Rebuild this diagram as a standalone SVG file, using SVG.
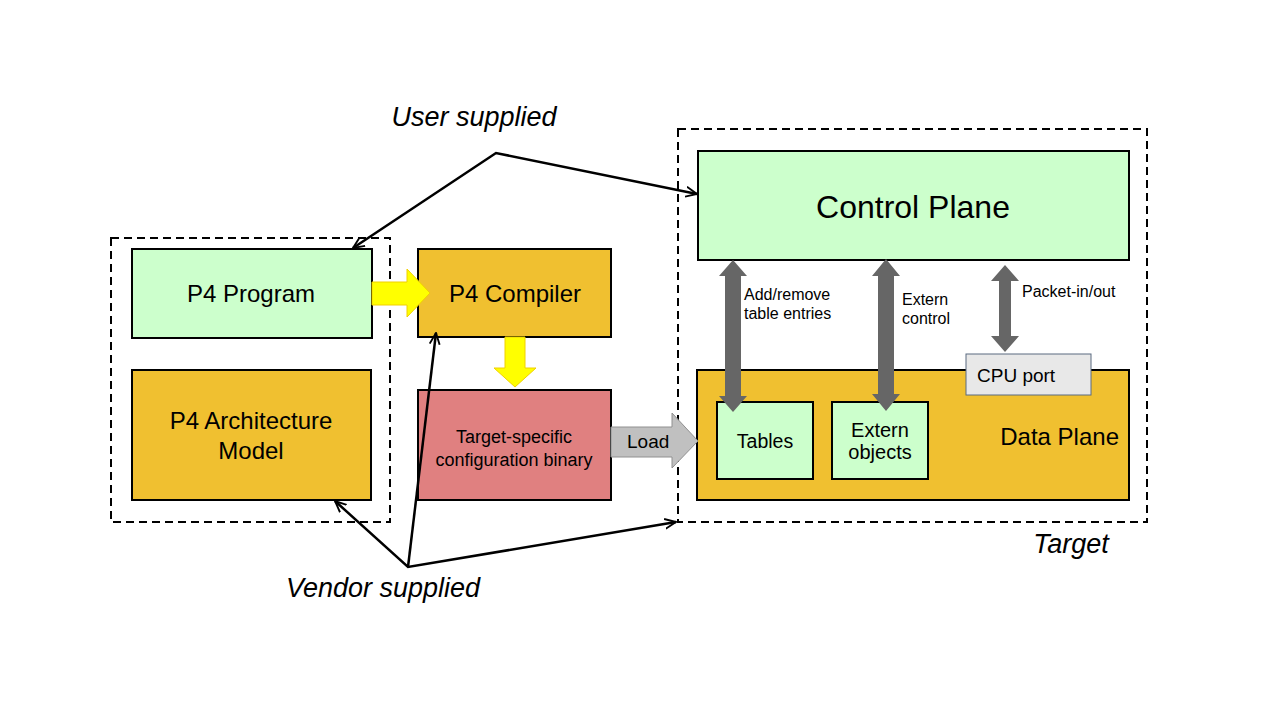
<svg xmlns="http://www.w3.org/2000/svg" width="1280" height="720" viewBox="0 0 1280 720">
<defs>
<style>
text{font-family:"Liberation Sans",Arial,sans-serif;fill:#000}
.box{stroke:#000;stroke-width:2}
.green{fill:#CCFFCC}
.gold{fill:#F0C030}
.red{fill:#E08080}
.dash{fill:none;stroke:#000;stroke-width:2;stroke-dasharray:8,5}
.line{fill:none;stroke:#000;stroke-width:2.5}
.gray{fill:#666666}
.it{font-style:italic;font-size:27px}
.sm{font-size:16px}
</style>
<marker id="ah" viewBox="0 0 10 10" refX="9" refY="5" markerWidth="5" markerHeight="5" orient="auto-start-reverse" markerUnits="strokeWidth">
<path d="M0,1 L9,5 L0,9" fill="none" stroke="#000" stroke-width="1.5"/>
</marker>
</defs>
<rect width="1280" height="720" fill="#fff"/>

<rect class="dash" x="111" y="238" width="279" height="284"/>
<rect class="dash" x="678" y="129" width="469" height="393"/>

<g id="p4program"><rect class="box green" x="132" y="249" width="240" height="89"/><text x="251" y="302" font-size="24" text-anchor="middle">P4 Program</text></g>
<g id="p4arch"><rect class="box gold" x="132" y="370" width="239" height="130"/><text x="251" y="429" font-size="24" text-anchor="middle">P4 Architecture</text><text x="251" y="459" font-size="24" text-anchor="middle">Model</text></g>
<g id="p4compiler"><rect class="box gold" x="418" y="249" width="193" height="88"/><text x="515" y="302" font-size="24" text-anchor="middle">P4 Compiler</text></g>
<g id="binary"><rect class="box red" x="418" y="390" width="193" height="110"/><text x="514" y="443" font-size="18" text-anchor="middle">Target-specific</text><text x="514" y="466" font-size="18" text-anchor="middle">configuration binary</text></g>
<g id="controlplane"><rect class="box green" x="698" y="151" width="431" height="109" stroke-width="1.5"/><text x="913" y="218" font-size="32" text-anchor="middle">Control Plane</text></g>
<g id="dataplane"><rect class="box gold" x="697" y="370" width="432" height="130"/><text x="1119" y="445" font-size="24" text-anchor="end">Data Plane</text></g>
<g id="tables"><rect class="box green" x="717" y="402" width="96" height="77" stroke-width="1.5"/><text x="765" y="448" font-size="19.5" text-anchor="middle">Tables</text></g>
<g id="externobj"><rect class="box green" x="832" y="402" width="96" height="77" stroke-width="1.5"/><text x="880" y="437" font-size="20" text-anchor="middle">Extern</text><text x="880" y="459" font-size="20" text-anchor="middle">objects</text></g>
<g id="cpuport"><rect x="966" y="354" width="125" height="41" fill="#E8E8E8" stroke="#5A6A80" stroke-width="1"/><text x="977" y="382" font-size="19">CPU port</text></g>

<g id="labels">
<text class="it" x="474" y="126" text-anchor="middle">User supplied</text>
<text class="it" x="383" y="597" text-anchor="middle">Vendor supplied</text>
<text class="it" x="1071" y="553" text-anchor="middle">Target</text>
<text class="sm" x="744" y="300">Add/remove</text>
<text class="sm" x="744" y="319">table entries</text>
<text class="sm" x="902" y="305">Extern</text>
<text class="sm" x="902" y="324">control</text>
<text class="sm" x="1022" y="297">Packet-in/out</text>
</g>

<g id="connectors">
<path d="M372,282 H407 V269 L430,293 L407,317 V305 H372 Z" fill="#FFFF00" stroke="#F0D000" stroke-width="1"/>
<path d="M505,337 H525 V368 H536 L515,387 L494,368 H505 Z" fill="#FFFF00" stroke="#F0D000" stroke-width="1"/>
<path d="M611,427 H672 V413 L698,441 L672,468 V457 H611 Z" fill="#C0C0C0" stroke="#909090" stroke-width="1"/>
<text x="627" y="448" font-size="19">Load</text>
<path class="gray" d="M733,260 L747,276 H741 V396 H747 L733,412 L719,396 H725 V276 H719 Z"/>
<path class="gray" d="M886,259 L900,276 H894 V394 H900 L886,411 L872,394 H878 V276 H872 Z"/>
<path class="gray" d="M1005,265 L1019,281 H1011 V336 H1019 L1005,352 L991,336 H999 V281 H991 Z"/>
<polyline class="line" points="353,248 496,153 697,194" marker-start="url(#ah)" marker-end="url(#ah)"/>
<polyline class="line" points="335,501 408,567 676,522" marker-start="url(#ah)" marker-end="url(#ah)"/>
<line class="line" x1="408" y1="567" x2="436" y2="333" marker-end="url(#ah)"/>
</g>
</svg>
